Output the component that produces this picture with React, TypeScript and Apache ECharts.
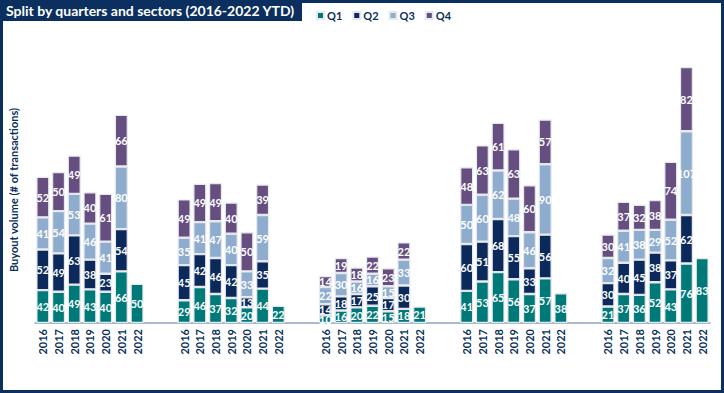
import React, { useEffect, useRef } from "react";
import * as echarts from "echarts";

const years = ["2016", "2017", "2018", "2019", "2020", "2021", "2022"];

// Five sector groups, values per quarter per year (2022 YTD only Q1)
const q1 = [
  [42, 40, 49, 43, 40, 66, 50],
  [29, 46, 37, 32, 20, 44, 22],
  [10, 16, 20, 22, 15, 18, 21],
  [41, 53, 65, 56, 37, 57, 38],
  [21, 37, 36, 52, 43, 76, 83],
];
const q2 = [
  [52, 49, 63, 38, 23, 54, null],
  [45, 42, 46, 42, 13, 35, null],
  [14, 18, 17, 25, 17, 30, null],
  [60, 51, 68, 55, 33, 56, null],
  [30, 40, 45, 38, 37, 62, null],
];
const q3 = [
  [41, 54, 53, 46, 41, 80, null],
  [35, 41, 47, 40, 33, 59, null],
  [22, 30, 16, 16, 15, 33, null],
  [50, 60, 62, 48, 46, 90, null],
  [32, 41, 38, 29, 52, 107, null],
];
const q4 = [
  [52, 50, 49, 40, 61, 66, null],
  [49, 49, 49, 40, 50, 39, null],
  [14, 19, 18, 22, 23, 22, null],
  [48, 63, 61, 63, 60, 57, null],
  [30, 37, 32, 38, 74, 82, null],
];
const quarterNames = ["Q1", "Q2", "Q3", "Q4"];
const quarterColors = ["#007A78", "#0B2A5B", "#8EACCD", "#664F80"];

const NAVY = "#0B2F5E";
const FONT = "Lato";

function buildCategories(): string[] {
  const cats: string[] = [];
  for (let g = 0; g < 5; g++) {
    years.forEach((y) => cats.push(y));
    if (g < 4) {
      cats.push("");
      cats.push(" ");
    }
  }
  return cats;
}

function buildSeries(groups: (number | null)[][]): (number | null)[] {
  const out: (number | null)[] = [];
  groups.forEach((vals, g) => {
    vals.forEach((v) => out.push(v));
    if (g < groups.length - 1) {
      out.push(null);
      out.push(null);
    }
  });
  return out;
}

export default function App() {
  const ref = useRef<HTMLDivElement>(null);
  useEffect(() => {
    if (!ref.current) return;
    const chart = echarts.init(ref.current, null, { renderer: "svg" });
    const cats = buildCategories();
    const all = [q1, q2, q3, q4];
    chart.setOption({
      animation: false,
      title: {
        text: "Split by quarters and sectors (2016-2022 YTD)",
        left: 0,
        top: 0,
        padding: [3, 7, 4, 6],
        backgroundColor: NAVY,
        textStyle: {
          color: "#ffffff",
          fontSize: 14,
          fontWeight: "bold",
          fontFamily: FONT,
        },
      },
      graphic: [
        {
          type: "rect",
          shape: { x: 1.5, y: 1.5, width: 721, height: 390 },
          style: { fill: "none", stroke: NAVY, lineWidth: 3 },
          silent: true,
          z: 100,
        },
      ],
      legend: {
        left: 311,
        top: 5,
        itemWidth: 7,
        itemHeight: 7,
        itemGap: 10,
        icon: "rect",
        textStyle: {
          color: NAVY,
          fontWeight: "bold",
          fontSize: 11,
          fontFamily: FONT,
          padding: [0, 0, 0, -2],
        },
        data: quarterNames,
      },
      grid: { left: 31, right: 14, top: 57, bottom: 70 },
      xAxis: {
        type: "category",
        data: cats,
        axisTick: { show: false },
        axisLine: { lineStyle: { color: "#8FA2BE", width: 1.5 } },
        axisLabel: {
          rotate: 90,
          interval: 0,
          margin: 6,
          color: NAVY,
          fontWeight: "bold",
          fontSize: 11,
          fontFamily: FONT,
        },
      },
      yAxis: {
        type: "value",
        min: 0,
        max: 340,
        name: "Buyout volume (# of transactions)",
        nameLocation: "middle",
        nameGap: 16,
        nameTextStyle: {
          color: NAVY,
          fontWeight: "bold",
          fontSize: 11,
          fontFamily: FONT,
        },
        axisLine: { show: false },
        axisTick: { show: false },
        axisLabel: { show: false },
        splitLine: { show: false },
      },
      series: all.map((groups, i) => ({
        name: quarterNames[i],
        type: "bar",
        stack: "total",
        barWidth: 13,
        data: buildSeries(groups),
        itemStyle: {
          color: quarterColors[i],
          borderColor: "#E6E8EE",
          borderWidth: 1.2,
        },
        label: {
          show: true,
          position: "inside",
          color: "#ffffff",
          fontWeight: "bold",
          fontSize: 11,
          fontFamily: FONT,
        },
      })),
    });
    return () => chart.dispose();
  }, []);
  return (
    <div
      ref={ref}
      style={{ position: "fixed", left: 0, top: 0, width: 724, height: 393, background: "#fff" }}
    />
  );
}
